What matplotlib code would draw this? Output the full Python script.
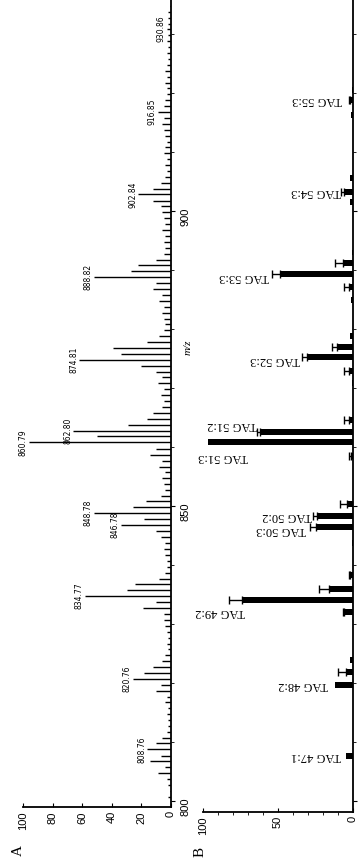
import numpy as np
import matplotlib.pyplot as plt

# ---- panel A: ESI spectrum, m/z vs relative intensity (%) ----
mz_a = [800.7, 801.7, 802.7, 803.7, 804.7, 805.7, 806.7, 807.7, 808.76, 809.76,
        810.7, 811.7, 812.7, 813.7, 814.7, 815.7, 816.7, 817.7, 818.7, 819.7,
        820.76, 821.76, 822.7, 823.7, 824.7, 825.7, 826.7, 827.7, 828.7, 829.7,
        830.7, 831.7, 832.7, 833.7, 834.77, 835.77, 836.77, 837.7, 838.7, 839.7,
        840.7, 841.7, 842.7, 843.7, 844.7, 845.7, 846.78, 847.78, 848.78, 849.78,
        850.78, 851.7, 852.7, 853.7, 854.7, 855.7, 856.7, 857.7, 858.7, 859.7,
        860.79, 861.8, 862.80, 863.8, 864.8, 865.8, 866.8, 867.8, 868.8, 869.8,
        870.8, 871.8, 872.8, 873.8, 874.81, 875.81, 876.81, 877.8, 878.8, 879.8,
        880.8, 881.8, 882.8, 883.8, 884.8, 885.8, 886.8, 887.8, 888.82, 889.8,
        890.8, 891.8, 892.8, 893.8, 894.8, 895.8, 896.8, 897.8, 898.8, 899.8,
        900.8, 901.8, 902.84, 903.8, 904.8, 905.8, 906.8, 907.8, 908.8, 909.8,
        910.8, 911.8, 912.8, 913.8, 914.8, 915.8, 916.85, 917.8, 918.8, 919.8,
        920.8, 921.8, 922.8, 923.8, 924.8, 925.8, 926.8, 927.8, 928.8, 929.8,
        930.86, 931.8, 932.8, 933.8, 934.8]
int_a = [2, 1, 2, 3, 9, 4, 14, 7, 16, 10,
         6, 3, 2, 2, 3, 2, 4, 3, 10, 7,
         26, 18, 12, 6, 4, 2, 3, 2, 3, 4,
         5, 5, 19, 10, 58, 30, 24, 8, 4, 3,
         3, 4, 5, 4, 7, 10, 34, 18, 52, 26,
         17, 7, 4, 5, 6, 4, 8, 6, 14, 10,
         96, 50, 66, 29, 16, 12, 6, 5, 7, 5,
         9, 6, 10, 20, 62, 34, 39, 16, 8, 5,
         4, 5, 6, 5, 8, 6, 12, 10, 52, 27,
         22, 10, 5, 4, 5, 4, 6, 4, 5, 6,
         7, 12, 22, 12, 7, 4, 3, 4, 3, 5,
         4, 3, 4, 5, 6, 5, 9, 5, 4, 3,
         3, 4, 3, 4, 3, 2, 3, 2, 3, 2,
         3, 2, 2, 2, 1]
peak_labels = [808.76, 820.76, 834.77, 846.78, 848.78, 860.79, 862.80,
               874.81, 888.82, 902.84, 916.85, 930.86]

# ---- panel B: TAG species, mean abundance (%) with SD ----
mz_b = [807.6, 819.7, 821.9, 823.9, 832.0, 834.1, 835.9, 838.3, 843.7, 846.4,
        848.3, 850.3, 858.5, 860.8, 862.5, 864.6, 870.8, 872.9, 875.3, 876.9,
        878.8, 884.9, 887.1, 889.3, 891.2, 893.0, 901.5, 903.2, 905.6, 916.3,
        918.8, 920.5]
mean_b = [5, 12, 5, 2, 6, 74, 16, 2, 1, 25,
          24, 4, 1.5, 97, 62, 3, 1, 3, 31, 11,
          2, 1.5, 3, 49, 7, 1, 2, 6, 2, 1.5,
          2, 1]
err_b = [0, 0, 5, 0, 1, 9, 7, 1, 0, 4,
         3, 5, 1.5, 0, 2, 3, 0, 3, 3, 3,
         0, 0, 3, 5, 5, 0, 0, 2, 0, 0,
         1, 0]
tag_names = ["TAG 47:1", "TAG 48:2", "TAG 49:2", "TAG 50:3", "TAG 50:2",
             "TAG 51:3", "TAG 51:2", "TAG 52:3", "TAG 53:3", "TAG 54:3",
             "TAG 55:3"]
tag_mz = [807.6, 819.7, 834.1, 846.4, 848.3, 860.8, 862.5, 875.3, 889.3, 903.2, 918.8]

# label placement (x in %, y shift in m/z) for the TAG names
tag_label_x = [8, 17, 72, 31, 27, 70, 64, 35, 56, 8, 7]
tag_label_dy = [0, 0, -2.0, -0.5, 0, -2.5, 1.2, -0.5, -0.5, 0, 0]

W, H = 363, 864
MZ_TOP = 935.8
PX_PER_MZ = 5.9
Y800 = 801

fig = plt.figure(figsize=(W / 100, H / 100), dpi=100)
plt.rcParams['font.family'] = 'Liberation Sans'


def add_axes(x0, x1, ybot):
    ax = fig.add_axes([x0 / W, (H - ybot) / H, (x1 - x0) / W, ybot / H])
    ax.set_ylim(800 - (ybot - Y800) / PX_PER_MZ, MZ_TOP)
    ax.set_xlim(100, 0)
    for s in ('left', 'top'):
        ax.spines[s].set_visible(False)
    for s in ('right', 'bottom'):
        ax.spines[s].set_linewidth(1.3)
    ax.yaxis.tick_right()
    ax.tick_params(axis='x', direction='in', length=3, labelrotation=90, labelsize=8, pad=3)
    ax.tick_params(axis='y', direction='out', length=3, labelrotation=90, labelsize=8)
    ax.set_yticks(np.arange(800, 931, 10), minor=True)
    ax.tick_params(which='minor', length=2)
    return ax


# panel A
axA = add_axes(23, 171, 807)
axA.hlines(mz_a, 0, int_a, color='black', lw=1.0)
axA.set_xticks([0, 20, 40, 60, 80, 100])
axA.set_yticks([800, 850, 900])
for mz in peak_labels:
    i = int(np.argmin(np.abs(np.array(mz_a) - mz)))
    axA.text(int_a[i] + 0.8, mz, f"{mz:.2f}", rotation=90, ha='right', va='center',
             fontsize=5.5, family='Liberation Sans Narrow')

# panel B
axB = add_axes(203, 353, 812)
axB.barh(mz_b, mean_b, height=1.0, color='black')
mzb, mb, eb = np.array(mz_b), np.array(mean_b), np.array(err_b)
has = eb > 0
axB.errorbar(mb[has], mzb[has], xerr=[np.zeros(has.sum()), eb[has]], fmt='none',
             ecolor='black', elinewidth=1, capsize=3, capthick=1)
axB.set_xticks([0, 50, 100])
axB.set_xticks(np.arange(0, 101, 10), minor=True)
axB.set_yticks([800, 850, 900])
axB.set_yticklabels([])
for name, mz, lx, dy in zip(tag_names, tag_mz, tag_label_x, tag_label_dy):
    axB.text(lx, mz + dy, name, rotation=180, ha='right', va='center',
             fontsize=9, family='Liberation Serif')

fig.text(188 / W, 1 - 347 / H, "m/z", rotation=90, ha='center', va='center',
         fontsize=8, style='italic', family='Liberation Serif')
fig.text(18 / W, 1 - 850 / H, "A", rotation=90, ha='center', va='center',
         fontsize=11, family='Liberation Serif')
fig.text(200 / W, 1 - 852 / H, "B", rotation=90, ha='center', va='center',
         fontsize=11, family='Liberation Serif')

fig.savefig("out.png", dpi=100)
